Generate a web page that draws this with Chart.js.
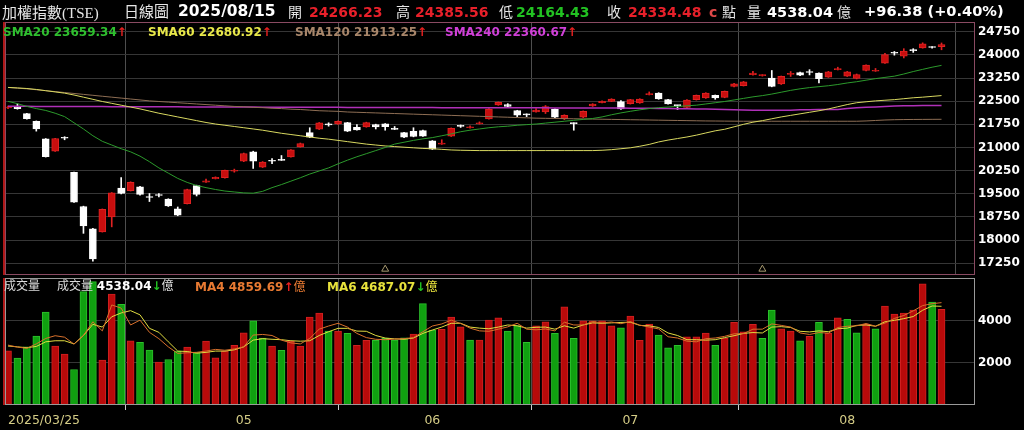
<!DOCTYPE html>
<html><head><meta charset="utf-8">
<script src="https://cdn.jsdelivr.net/npm/chart.js@4.4.1/dist/chart.umd.min.js"></script>
<style>
body{margin:0;background:#000;width:1024px;height:430px;overflow:hidden;position:relative;font-family:"DejaVu Sans",sans-serif;}
canvas{position:absolute;left:0;}
#c1{top:0;}
#c2{top:278px;}
.t{position:absolute;white-space:nowrap;line-height:1;}
.b{font-weight:bold;}
.cjk{font-family:"Noto Sans CJK TC","DejaVu Sans",sans-serif;font-weight:normal;}
</style></head><body>
<canvas id="c1" width="1024" height="280" style="width:1024px;height:280px"></canvas>
<canvas id="c2" width="1024" height="152" style="width:1024px;height:152px"></canvas>

<div class="t" style="left:2px;top:4px;font-size:15px;color:#e6e6e6;font-family:'Liberation Serif','Noto Sans CJK TC',serif;"><span class="cjk">加權指數</span>(TSE)</div>
<div class="t cjk" style="left:124px;top:3px;font-size:15px;color:#e6e6e6;">日線圖</div>
<div class="t b" style="left:178px;top:4px;font-size:15.5px;color:#fff;">2025/08/15</div>
<div class="t cjk" style="left:288px;top:4px;font-size:14px;color:#e6e6e6;">開</div>
<div class="t b" style="left:309px;top:5px;font-size:14px;color:#e8202a;">24266.23</div>
<div class="t cjk" style="left:396px;top:4px;font-size:14px;color:#e6e6e6;">高</div>
<div class="t b" style="left:415px;top:5px;font-size:14px;color:#e8202a;">24385.56</div>
<div class="t cjk" style="left:499px;top:4px;font-size:14px;color:#e6e6e6;">低</div>
<div class="t b" style="left:516px;top:5px;font-size:14px;color:#22c222;">24164.43</div>
<div class="t cjk" style="left:607px;top:4px;font-size:14px;color:#e6e6e6;">收</div>
<div class="t b" style="left:628px;top:5px;font-size:14px;color:#e8202a;">24334.48</div>
<div class="t b" style="left:709px;top:5px;font-size:14px;color:#e04848;">c</div>
<div class="t cjk" style="left:722px;top:4px;font-size:14px;color:#e6e6e6;">點</div>
<div class="t cjk" style="left:747px;top:4px;font-size:14px;color:#e6e6e6;">量</div>
<div class="t b" style="left:767px;top:5px;font-size:14.5px;color:#fff;">4538.04</div>
<div class="t cjk" style="left:837px;top:4px;font-size:14px;color:#e6e6e6;">億</div>
<div class="t b" style="left:864px;top:4px;font-size:14.6px;color:#fff;">+96.38 (+0.40%)</div>

<div class="t b" style="left:3px;top:26px;font-size:12px;color:#2fbf2f;">SMA20 23659.34<span style="color:#e82020">↑</span></div>
<div class="t b" style="left:148px;top:26px;font-size:12px;color:#e8e84a;">SMA60 22680.92<span style="color:#e82020">↑</span></div>
<div class="t b" style="left:295px;top:26px;font-size:12px;color:#a8866a;">SMA120 21913.25<span style="color:#e82020">↑</span></div>
<div class="t b" style="left:445px;top:26px;font-size:12px;color:#d040d8;">SMA240 22360.67<span style="color:#e82020">↑</span></div>

<div class="t cjk" style="left:4px;top:279px;font-size:12px;color:#dcdcdc;">成交量</div>
<div class="t" style="left:57px;top:279px;font-size:12px;color:#dcdcdc;"><span class="cjk">成交量</span> <span class="b" style="color:#fff">4538.04</span><span class="b" style="color:#22c222">↓</span><span class="cjk">億</span></div>
<div class="t b" style="left:195px;top:280px;font-size:12px;color:#e87a32;">MA4 4859.69<span style="color:#e82020">↑</span><span class="cjk">億</span></div>
<div class="t b" style="left:327px;top:280px;font-size:12px;color:#e8e23c;">MA6 4687.07<span style="color:#22c222">↓</span><span class="cjk">億</span></div>

<script>
const dates = ['03/25','03/26','03/27','03/28','03/31',
'04/01','04/02','04/07','04/08','04/09','04/10','04/11','04/14','04/15','04/16','04/17','04/18','04/21','04/22','04/23','04/24','04/25','04/28','04/29','04/30',
'05/02','05/05','05/06','05/07','05/08','05/09','05/12','05/13','05/14','05/15','05/16','05/19','05/20','05/21','05/22','05/23','05/26','05/27','05/28','05/29',
'06/02','06/03','06/04','06/05','06/06','06/09','06/10','06/11','06/12','06/13','06/16','06/17','06/18','06/19','06/20','06/23','06/24','06/25','06/26','06/27','06/30',
'07/01','07/02','07/03','07/04','07/07','07/08','07/09','07/10','07/11','07/14','07/15','07/16','07/17','07/18','07/21','07/22','07/23','07/24','07/25','07/28','07/29','07/30','07/31',
'08/01','08/04','08/05','08/06','08/07','08/08','08/11','08/12','08/13','08/14','08/15'];

const opens = [22280,22322,22097,21850,21280, 20880,21300,20193,19090,18364,18267,18751,19687,19603,19729,19387,19451,19332,19010,19183,19765,19880,19990,20022,20230,
20558,20862,20365,20560,20590,20697,21022,21484,21590,21742,21764,21806,21656,21667,21742,21764,21590,21484,21527,21548,
21215,21110,21366,21690,21640,21770,21925,22378,22387,22194,22080,22150,22151,22237,21935,21780,21979,22344,22452,22495,22484,
22419,22441,22710,22764,22548,22360,22301,22548,22602,22688,22624,22978,23000,23355,23325,23247,23055,23370,23430,23432,23409,23280,23520,
23310,23236,23494,23470,23732,24058,23958,24142,24226,24250,24266.23];
const closes = [22310,22258,21935,21600,20700, 21290,21298,19232,18460,17391,19000,19528,19516,19870,19484,19380,19445,19106,18807,19635,19484,19920,20030,20258,20260,
20807,20558,20530,20555,20585,20923,21130,21334,21796,21735,21850,21527,21570,21807,21667,21678,21586,21334,21355,21366,
20947,21140,21624,21686,21670,21800,22248,22461,22332,22043,22055,22215,22323,21979,22043,21774,22172,22409,22495,22570,22248,
22549,22570,22730,22570,22409,22355,22537,22688,22764,22602,22817,23064,23129,23409,23340,22978,23301,23385,23344,23428,23226,23451,23555,
23450,23365,23668,23480,24010,24052,24119,24138,24355,24238.1,24334.48];
const highs = [22340,22410,22110,21860,21290, 21300,21350,20200,19100,18380,19010,19540,20023,19890,19740,19510,19510,19340,19074,19650,19780,19980,20050,20270,20300,
20820,20880,20545,20640,20740,20935,21145,21640,21810,21800,21865,21815,21742,21820,21755,21775,21680,21495,21640,21560,
21225,21250,21635,21730,21700,21830,22260,22475,22420,22205,22090,22260,22360,22250,22060,21800,22185,22420,22510,22580,22520,
22560,22580,22800,22775,22560,22370,22550,22700,22775,22700,22830,23075,23140,23470,23360,23494,23315,23460,23445,23520,23420,23465,23600,
23465,23380,23680,23560,24050,24110,24200,24200,24390,24270,24385.56];
const lows = [22260,22240,21920,21530,20690, 20870,21250,19220,18220,17320,18260,18430,19500,19590,19460,19250,19400,19090,18790,19170,19430,19870,19980,20010,20200,
20540,20322,20350,20480,20580,20690,21010,21320,21580,21690,21750,21515,21560,21655,21600,21560,21580,21320,21345,21355,
20935,21100,21355,21650,21625,21755,21915,22365,22300,22000,22000,22140,22100,21965,21900,21559,21965,22330,22440,22485,22235,
22405,22430,22700,22560,22400,22230,22290,22535,22590,22560,22610,22965,22990,23345,23310,22965,23040,23300,23330,23350,23090,23270,23510,
23300,23220,23480,23465,23720,23990,23900,24080,24215,24215,24164.43];

const sma20 = [22494,22420,22330,22260,22200,22110,22000,21800,21600,21380,21200,21080,20960,20860,20720,20540,20340,20170,20000,19870,19770,19700,19640,19590,19560,
19530,19520,19580,19700,19800,19910,20020,20140,20240,20340,20470,20590,20700,20800,20900,21000,21110,21170,21230,21280,
21320,21380,21440,21510,21560,21600,21640,21670,21690,21720,21740,21760,21790,21820,21850,21880,21910,21940,21990,22060,22120,
22172,22220,22260,22290,22310,22330,22350,22370,22410,22450,22490,22540,22590,22640,22680,22730,22790,22850,22900,22940,22970,23000,23040,
23090,23130,23180,23230,23270,23310,23380,23460,23530,23600,23659.34];
const sma60 = [22945,22930,22910,22880,22840,22800,22760,22700,22630,22560,22490,22430,22370,22310,22250,22180,22110,22050,21990,21930,21870,21810,21760,21720,21680,
21640,21600,21560,21510,21460,21420,21380,21340,21300,21270,21230,21190,21150,21110,21080,21050,21030,21010,20990,20970,
20960,20940,20920,20910,20905,20900,20900,20900,20900,20900,20900,20900,20900,20900,20900,20900,20900,20900,20910,20930,20960,
20990,21040,21100,21180,21240,21290,21340,21400,21470,21540,21590,21670,21750,21820,21870,21930,21990,22040,22090,22140,22190,22248,22320,
22390,22450,22480,22510,22530,22550,22580,22610,22630,22655,22680.92];
const sma120 = [22945,22920,22900,22870,22840,22810,22780,22750,22720,22690,22660,22630,22600,22570,22540,22510,22490,22470,22450,22430,22410,22390,22370,22350,22330,
22320,22300,22290,22270,22260,22240,22230,22210,22190,22180,22170,22150,22140,22130,22120,22110,22100,22090,22080,22070,
22060,22050,22040,22030,22020,22010,22000,21990,21980,21970,21960,21950,21945,21940,21935,21930,21925,21920,21915,21910,21905,
21900,21895,21890,21885,21880,21875,21870,21865,21860,21858,21855,21852,21850,21850,21850,21850,21850,21850,21850,21850,21850,21850,21850,
21850,21850,21860,21875,21890,21900,21905,21908,21910,21912,21913.25];
const sma240 = [22333,22333,22332,22331,22330,22329,22328,22327,22326,22325,22324,22323,22322,22321,22320,22319,22318,22317,22316,22315,22314,22313,22312,22311,22310,
22309,22308,22307,22306,22305,22304,22303,22302,22301,22300,22300,22299,22298,22297,22296,22295,22295,22294,22293,22292,
22292,22291,22290,22290,22290,22290,22290,22289,22288,22287,22286,22285,22284,22283,22282,22281,22280,22279,22278,22277,22276,
22274,22271,22268,22264,22260,22256,22252,22248,22244,22240,22230,22222,22215,22210,22207,22205,22204,22204,22220,22226,22228,22230,22232,
22260,22285,22300,22315,22330,22340,22350,22355,22357,22359,22360.67];

const volume = [2571,2224,2762,3271,4414,2795,2414,1686,5381,5857,2129,5271,4781,3048,2971,2605,2033,2162,2557,2748,2510,3033,2238,2557,2829,
3429,4000,3176,2795,2590,3033,2795,4176,4367,3510,3510,3400,2829,3067,3067,3162,3081,3190,3367,4810,
3557,3590,4176,3714,3081,3081,4033,4143,3510,3770,2971,3762,3952,3400,4667,3162,4000,4000,4000,3762,3667,
4224,3067,3843,3319,2714,2829,3238,3238,3414,2829,3162,3924,3476,3829,3162,4510,3619,3510,3048,3257,3924,3414,4143,
4067,3429,3829,3619,4700,4319,4367,4510,5748,4890,4538.04];
const volUp = [1,0,0,0,0,1,1,0,0,0,1,1,0,1,0,0,1,0,0,1,0,1,1,1,1,
1,0,0,1,0,1,1,1,1,0,1,0,1,1,0,0,0,0,1,0,
0,1,1,1,0,1,1,1,0,0,0,1,1,0,1,0,1,1,1,1,0,
1,1,1,0,0,0,1,1,1,0,1,1,1,1,0,0,1,1,0,1,0,1,1,
0,0,1,0,1,1,1,1,1,0,1];
const volMA4 = [2843,2750,2690,2900,3160,3290,3220,2890,3300,3950,3520,4750,4600,3800,4030,3450,3150,2760,2450,2480,2500,2560,2640,2600,2660,
2760,3320,3350,3300,3080,2950,2900,3160,3600,3750,3880,3700,3400,3200,3120,3100,3130,3150,3200,3480,
3750,3850,4030,3870,3650,3520,3500,3600,3710,3880,3600,3570,3610,3520,3930,3800,3800,3960,3900,3940,3860,
3960,3790,3700,3610,3240,3180,3030,3000,3150,3180,3260,3380,3390,3600,3600,3850,3780,3700,3420,3350,3440,3410,3680,
3740,3760,3870,3740,3890,4110,4250,4470,4720,4810,4859.69];
const volMA6 = [2800,2760,2720,2780,3000,3050,3050,2900,3300,3830,3700,4190,4370,4480,4280,3640,3450,3000,2560,2540,2460,2500,2560,2560,2620,
2760,3080,3150,3120,3100,3050,3030,3050,3300,3480,3640,3640,3510,3500,3300,3180,3140,3120,3180,3400,
3560,3700,3880,3880,3700,3650,3620,3700,3800,3760,3650,3690,3700,3600,3760,3650,3800,3900,3880,3900,3920,
3930,3780,3760,3680,3420,3300,3100,3100,3080,3100,3200,3290,3400,3440,3420,3700,3720,3680,3500,3470,3520,3480,3620,
3650,3780,3800,3740,3950,4020,4100,4200,4500,4700,4687.07];

const priceTicks = [17250,18000,18750,19500,20250,21000,21750,22500,23250,24000,24750];
const volTicks = [2000,4000];
const monthTickIdx = [0,25,45,66,89];
const monthTickLabels = ['2025/03/25','05','06','07','08'];
const markerIdx = [40,80];
const markerLevel = 17060;

const X_MIN = -0.32, X_MAX = 102.55;
const RED='#c80e0e', RED_B='#e02222', WHITE='#ffffff';

const isUp = i => closes[i] >= opens[i];

const framePlugin = {
  id:'frame',
  afterDraw(chart, args, o){
    const {ctx, chartArea:a} = chart;
    ctx.save();
    ctx.lineWidth = 1;
    ctx.strokeStyle = o.color;
    ctx.strokeRect(a.left+0.5, a.top+0.5, a.right-a.left-1, a.bottom-a.top-1);
    ctx.strokeStyle = '#b01818';
    ctx.lineWidth = 2;
    ctx.beginPath(); ctx.moveTo(a.left-1, a.top); ctx.lineTo(a.left-1, a.bottom); ctx.stroke();
    ctx.restore();
  }
};

const noPadY = s => { s.width = 49; s.paddingTop = 0; s.paddingBottom = 0; };

Chart.defaults.font.family = '"DejaVu Sans", sans-serif';
Chart.defaults.animation = false;

new Chart(document.getElementById('c1'), {
  type:'bar',
  data:{
    datasets:[
      {type:'line', label:'SMA20', data: sma20.map((v,i)=>({x:i,y:v})), borderColor:'#2c9a2c', borderWidth:1, pointRadius:0, order:0},
      {type:'line', label:'SMA60', data: sma60.map((v,i)=>({x:i,y:v})), borderColor:'#d8d860', borderWidth:1, pointRadius:0, order:0},
      {type:'line', label:'SMA120', data: sma120.map((v,i)=>({x:i,y:v})), borderColor:'#8e6e54', borderWidth:1, pointRadius:0, order:0},
      {type:'line', label:'SMA240', data: sma240.map((v,i)=>({x:i,y:v})), borderColor:'#b030b8', borderWidth:1.5, pointRadius:0, order:0},
      {type:'scatter', label:'mark', data: markerIdx.map(i=>({x:i,y:markerLevel})), pointStyle:'triangle', pointRadius:4, borderColor:'#a89a70', backgroundColor:'rgba(0,0,0,0)', borderWidth:1, order:0},
      {label:'body', data: dates.map((d,i)=>({x:i,y:[opens[i],closes[i]]})), backgroundColor: dates.map((d,i)=>isUp(i)?RED:WHITE), borderColor: dates.map((d,i)=>isUp(i)?RED_B:WHITE), borderWidth:1, borderSkipped:false, barThickness:7, minBarLength:1, grouped:false, order:1},
      {label:'wick', data: dates.map((d,i)=>({x:i,y:[lows[i],highs[i]]})), backgroundColor: dates.map((d,i)=>isUp(i)?RED_B:WHITE), barThickness:1, grouped:false, order:2}
    ]
  },
  options:{
    responsive:false, devicePixelRatio:1, animation:false,
    layout:{padding:{left:5, top:22, right:0, bottom:4}},
    plugins:{legend:{display:false}, tooltip:{enabled:false}, frame:{color:'#8a4a62'}},
    scales:{
      x:{type:'linear', min:X_MIN, max:X_MAX, offset:false,
         afterBuildTicks: s=>{ s.ticks = monthTickIdx.map(v=>({value:v})); },
         ticks:{display:false}, grid:{color:'#4e4e4e', drawTicks:false}, border:{display:false},
         afterFit: s=>{ s.height = 0; s.paddingLeft = 0; s.paddingRight = 0; }},
      y:{type:'linear', position:'right', min:16871, max:25064,
         afterBuildTicks: s=>{ s.ticks = priceTicks.map(v=>({value:v})); },
         ticks:{color:'#ffffff', font:{size:12, weight:'bold'}, padding:3, callback:v=>String(v)},
         grid:{color:'#363636', drawTicks:false}, border:{display:false},
         afterFit: noPadY}
    }
  },
  plugins:[framePlugin]
});

new Chart(document.getElementById('c2'), {
  type:'bar',
  data:{
    datasets:[
      {type:'line', label:'MA4', data: volMA4.map((v,i)=>({x:i,y:v})), borderColor:'#d8702c', borderWidth:1, pointRadius:0, order:0},
      {type:'line', label:'MA6', data: volMA6.map((v,i)=>({x:i,y:v})), borderColor:'#e0dc40', borderWidth:1, pointRadius:0, order:0},
      {label:'vol', data: volume.map((v,i)=>({x:i,y:v})), backgroundColor: volUp.map(u=>u?'#b80a0a':'#10a010'), borderColor: volUp.map(u=>u?'#d02020':'#2cc02c'), borderWidth:1, borderSkipped:false, barThickness:7, grouped:false, order:1}
    ]
  },
  options:{
    responsive:false, devicePixelRatio:1, animation:false,
    layout:{padding:{left:5, top:0, right:0, bottom:0}},
    plugins:{legend:{display:false}, tooltip:{enabled:false}, frame:{color:'#9a9a9a'}},
    scales:{
      x:{type:'linear', min:X_MIN, max:X_MAX, offset:false,
         afterBuildTicks: s=>{ s.ticks = monthTickIdx.map(v=>({value:v})).concat([{value:X_MAX}]); },
         ticks:{color:'#d4cc86', font:{size:12.5}, padding:3, align:'inner', maxRotation:0, autoSkip:false,
                callback:v=>{ const k = monthTickIdx.indexOf(v); return k>=0 ? monthTickLabels[k] : ''; }},
         grid:{color: c=> (c.tick && c.tick.value>100) ? 'rgba(0,0,0,0)' : '#4e4e4e',
               tickColor: c=> (c.tick && c.tick.value>100) ? 'rgba(0,0,0,0)' : '#cccccc', tickLength:5},
         border:{display:false},
         afterFit: s=>{ s.height = 25; s.paddingLeft = 0; s.paddingRight = 0; }},
      y:{type:'linear', position:'right', min:0, max:6030,
         afterBuildTicks: s=>{ s.ticks = volTicks.map(v=>({value:v})); },
         ticks:{color:'#ffffff', font:{size:12, weight:'bold'}, padding:3, callback:v=>String(v)},
         grid:{color:'#363636', drawTicks:false}, border:{display:false},
         afterFit: noPadY}
    }
  },
  plugins:[framePlugin]
});
</script>
</body></html>
